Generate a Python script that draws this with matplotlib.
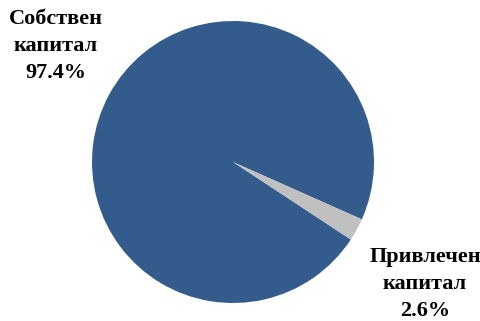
import matplotlib
matplotlib.use("Agg")
import matplotlib.pyplot as plt

labels = ["Собствен\nкапитал", "Привлечен\nкапитал"]
shares = [97.4, 2.6]
colors = ["#335B8C", "#C0C0C0"]

W, H = 481, 321
fig = plt.figure(figsize=(W / 100, H / 100), dpi=100)

# pie centre (233, 162) px, radius 141 px
cx, cy, r = 233, 162, 141
ax = fig.add_axes([(cx - r) / W, (H - cy - r) / H, 2 * r / W, 2 * r / H])
ax.pie(shares, colors=colors, startangle=-24, counterclock=True,
       wedgeprops=dict(linewidth=0))
ax.set_xlim(-1, 1)
ax.set_ylim(-1, 1)
ax.set_aspect("equal")
ax.axis("off")

font = dict(family="Liberation Serif", fontweight="bold", fontsize=16,
            ha="center", va="center", linespacing=1.45)
pos = [(56, 46), (425, 284)]
for (px, py), lab, v in zip(pos, labels, shares):
    fig.text(px / W, 1 - py / H, "%s\n%.1f%%" % (lab, v), **font)

fig.savefig("out.png", dpi=100)
